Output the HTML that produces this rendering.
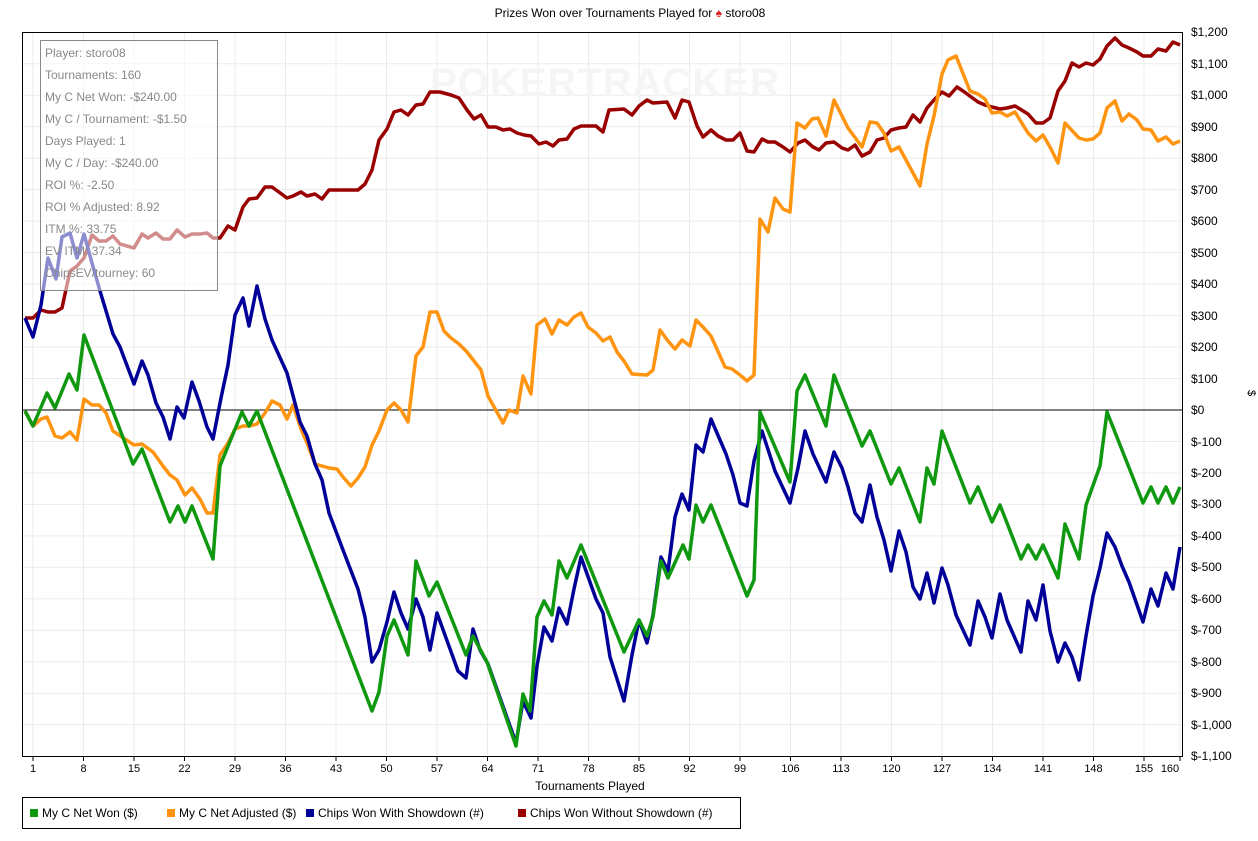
<!DOCTYPE html>
<html><head><meta charset="utf-8"><style>
body{margin:0;background:#fff;}
svg{display:block;font-family:"Liberation Sans",sans-serif;}
</style></head><body>
<svg width="1258" height="841" viewBox="0 0 1258 841" xmlns="http://www.w3.org/2000/svg">
<rect width="1258" height="841" fill="#fff"/>
<text x="630" y="17" font-size="12" text-anchor="middle" fill="#000">Prizes Won over Tournaments Played for <tspan fill="#d22">♠</tspan> storo08</text>
<g stroke="#ebebeb" stroke-width="1">
<line x1="23" x2="1183" y1="63.7" y2="63.7"/><line x1="23" x2="1183" y1="95.2" y2="95.2"/><line x1="23" x2="1183" y1="126.7" y2="126.7"/><line x1="23" x2="1183" y1="158.2" y2="158.2"/><line x1="23" x2="1183" y1="189.6" y2="189.6"/><line x1="23" x2="1183" y1="221.1" y2="221.1"/><line x1="23" x2="1183" y1="252.6" y2="252.6"/><line x1="23" x2="1183" y1="284.1" y2="284.1"/><line x1="23" x2="1183" y1="315.6" y2="315.6"/><line x1="23" x2="1183" y1="347" y2="347"/><line x1="23" x2="1183" y1="378.5" y2="378.5"/><line x1="23" x2="1183" y1="441.5" y2="441.5"/><line x1="23" x2="1183" y1="473" y2="473"/><line x1="23" x2="1183" y1="504.4" y2="504.4"/><line x1="23" x2="1183" y1="535.9" y2="535.9"/><line x1="23" x2="1183" y1="567.4" y2="567.4"/><line x1="23" x2="1183" y1="598.9" y2="598.9"/><line x1="23" x2="1183" y1="630.4" y2="630.4"/><line x1="23" x2="1183" y1="661.8" y2="661.8"/><line x1="23" x2="1183" y1="693.3" y2="693.3"/><line x1="23" x2="1183" y1="724.8" y2="724.8"/>
<line y1="32" y2="756" x1="33" x2="33"/><line y1="32" y2="756" x1="83.5" x2="83.5"/><line y1="32" y2="756" x1="134" x2="134"/><line y1="32" y2="756" x1="184.5" x2="184.5"/><line y1="32" y2="756" x1="235" x2="235"/><line y1="32" y2="756" x1="285.5" x2="285.5"/><line y1="32" y2="756" x1="336" x2="336"/><line y1="32" y2="756" x1="386.5" x2="386.5"/><line y1="32" y2="756" x1="437" x2="437"/><line y1="32" y2="756" x1="487.5" x2="487.5"/><line y1="32" y2="756" x1="538" x2="538"/><line y1="32" y2="756" x1="588.5" x2="588.5"/><line y1="32" y2="756" x1="639" x2="639"/><line y1="32" y2="756" x1="689.5" x2="689.5"/><line y1="32" y2="756" x1="740" x2="740"/><line y1="32" y2="756" x1="790.5" x2="790.5"/><line y1="32" y2="756" x1="841" x2="841"/><line y1="32" y2="756" x1="891.5" x2="891.5"/><line y1="32" y2="756" x1="942" x2="942"/><line y1="32" y2="756" x1="992.5" x2="992.5"/><line y1="32" y2="756" x1="1043" x2="1043"/><line y1="32" y2="756" x1="1093.5" x2="1093.5"/><line y1="32" y2="756" x1="1144" x2="1144"/><line y1="32" y2="756" x1="1180" x2="1180"/>
</g>
<text x="605" y="96" font-size="40" font-weight="bold" text-anchor="middle" fill="#f5f5f5" letter-spacing="1">POKERTRACKER</text>
<line x1="23" x2="1183" y1="410" y2="410" stroke="#000" stroke-width="1"/>
<g fill="none" stroke-width="3.5" stroke-linejoin="round">
<polyline stroke="#990000" points="25,318 33,318 41,310 48,312 55,312 62,308 70,271 77,266 84,258 92,235 99,241 106,241 113,236 120,244 134,248 142,234 148,238 156,233 163,239 170,239 177,230 185,237 192,234 200,234 207,233 213,238 220,238 228,226 235,230 243,207 249,199 257,198 265,187 272,187 287,198 293,196 301,192 307,196 315,194 322,199 329,190 358,190 365,184 372,170 379,140 387,129 394,112 401,110 408,115 416,105 423,104 430,92 440,92 451,95 459,98 467,110 474,119 481,115 488,127 496,127 503,130 510,129 517,133 524,135 531,136 539,144 546,142 553,146 559,140 567,139 574,129 581,126 596,126 603,132 609,110 624,109 632,115 639,106 647,100 653,103 667,102 675,118 682,100 689,102 697,126 703,137 711,130 718,136 726,140 733,140 740,133 747,151 754,152 762,139 768,142 775,142 783,147 790,152 798,143 805,140 813,147 819,150 826,143 834,142 842,148 848,150 855,145 862,156 870,152 877,140 884,138 891,130 899,128 906,127 913,115 920,122 927,108 934,100 942,92 949,96 957,87 963,91 978,102 985,105 992,107 1000,109 1007,108 1015,106 1028,114 1036,123 1043,123 1050,118 1058,91 1065,81 1072,63 1079,67 1086,63 1093,65 1100,59 1107,46 1115,38 1122,45 1129,48 1137,52 1143,56 1151,56 1158,49 1166,51 1173,42 1180,45"/>
<polyline stroke="#ff9411" points="25,411 33,426 41,419 47,417 55,436 62,438 70,432 77,440 84,399 92,405 99,405 106,413 113,431 134,445 142,444 153,452 163,466 170,475 177,480 185,495 192,488 200,499 207,513 213,513 220,455 228,443 235,429 243,426 249,426 257,424 265,413 272,401 280,405 287,419 293,405 301,429 307,443 315,464 322,466 329,468 337,469 343,477 351,486 358,478 365,467 372,445 379,431 387,410 394,403 401,410 408,422 416,356 423,347 430,312 437,312 444,331 451,338 459,344 467,352 481,370 488,396 503,423 509,410 517,413 523,376 531,394 537,325 545,319 552,334 559,320 567,325 574,317 581,313 588,327 596,333 603,341 610,337 617,352 624,361 632,374 647,375 653,370 660,330 668,341 675,349 682,340 690,346 696,320 703,327 711,336 725,367 732,369 740,375 747,381 754,375 760,219 768,232 775,198 783,209 790,212 797,123 805,128 812,119 818,118 826,136 834,100 848,128 862,147 870,122 877,123 884,133 891,151 899,147 920,186 927,144 934,116 942,74 948,60 956,56 970,91 978,94 985,99 992,113 1000,112 1007,116 1015,112 1028,133 1036,141 1043,135 1050,147 1058,163 1065,123 1079,138 1086,140 1093,139 1100,133 1107,108 1115,101 1122,121 1129,114 1137,120 1143,129 1151,130 1158,141 1166,137 1173,144 1180,141"/>
<polyline stroke="#000099" points="25,318 33,337 41,305 48,258 56,279 62,237 70,233 77,258 84,234 92,263 100,291 113,334 120,347 134,384 142,361 148,375 156,403 163,417 170,439 177,407 184,418 192,382 199,401 207,427 213,439 221,398 228,365 235,315 243,298 249,326 257,286 265,319 272,340 287,373 300,422 307,436 315,464 322,480 329,513 343,550 358,589 365,617 372,662 379,650 387,622 394,592 401,613 408,629 416,599 423,617 430,650 437,613 458,671 466,678 473,629 480,650 488,664 516,743 523,701 531,718 537,666 544,627 552,641 559,608 567,624 574,589 581,557 596,599 603,613 610,657 624,701 632,655 639,620 647,643 653,615 661,557 668,571 675,517 682,494 689,510 696,445 703,452 711,419 726,454 733,475 740,503 747,506 754,461 762,431 775,471 790,503 798,468 805,431 813,454 826,482 834,452 842,468 848,487 855,513 862,522 870,485 877,517 884,540 891,571 899,531 906,552 913,587 920,599 927,573 934,603 942,568 948,585 956,615 970,645 978,601 985,617 992,638 1000,594 1007,620 1021,652 1028,601 1036,620 1043,585 1050,631 1058,662 1065,643 1072,657 1079,680 1086,636 1093,596 1100,568 1107,533 1115,547 1122,566 1129,582 1143,622 1151,589 1158,606 1166,573 1173,589 1180,547"/>
<polyline stroke="#109910" points="25,411 33,426 47,393 55,408 69,374 77,390 84,335 133,464 142,449 170,522 178,506 185,522 192,506 213,559 220,466 242,412 249,426 257,411 372,711 379,692 387,636 394,620 408,655 416,561 429,596 437,582 466,655 473,636 487,662 516,746 523,694 530,711 537,617 544,601 552,615 559,561 567,578 581,545 624,652 639,620 647,636 653,617 661,561 668,578 683,545 689,559 696,505 703,522 711,505 747,596 754,580 760,412 790,482 797,391 805,375 826,426 834,375 862,446 870,431 891,484 899,468 920,522 927,468 934,484 942,431 970,503 978,487 992,522 1000,505 1021,559 1028,545 1036,559 1043,545 1058,578 1065,524 1079,559 1086,505 1100,466 1107,412 1143,503 1151,487 1158,503 1166,487 1173,503 1180,487"/>
</g>
<rect x="40.5" y="40.5" width="177" height="250" fill="#fff" fill-opacity="0.55" stroke="#888" stroke-width="1"/>
<g font-size="12" fill="#888">
<text x="45" y="57">Player: storo08</text>
<text x="45" y="79">Tournaments: 160</text>
<text x="45" y="101">My C Net Won: -$240.00</text>
<text x="45" y="123">My C / Tournament: -$1.50</text>
<text x="45" y="145">Days Played: 1</text>
<text x="45" y="167">My C / Day: -$240.00</text>
<text x="45" y="189">ROI %: -2.50</text>
<text x="45" y="211">ROI % Adjusted: 8.92</text>
<text x="45" y="233">ITM %: 33.75</text>
<text x="45" y="255">EV ITM: 37.34</text>
<text x="45" y="277">ChipsEV/tourney: 60</text>
</g>
<rect x="22.5" y="32.5" width="1160" height="724" fill="none" stroke="#000" stroke-width="1"/>
<g stroke="#000" stroke-width="1">
<line x1="33" x2="33" y1="757" y2="761"/><line x1="83.5" x2="83.5" y1="757" y2="761"/><line x1="134" x2="134" y1="757" y2="761"/><line x1="184.5" x2="184.5" y1="757" y2="761"/><line x1="235" x2="235" y1="757" y2="761"/><line x1="285.5" x2="285.5" y1="757" y2="761"/><line x1="336" x2="336" y1="757" y2="761"/><line x1="386.5" x2="386.5" y1="757" y2="761"/><line x1="437" x2="437" y1="757" y2="761"/><line x1="487.5" x2="487.5" y1="757" y2="761"/><line x1="538" x2="538" y1="757" y2="761"/><line x1="588.5" x2="588.5" y1="757" y2="761"/><line x1="639" x2="639" y1="757" y2="761"/><line x1="689.5" x2="689.5" y1="757" y2="761"/><line x1="740" x2="740" y1="757" y2="761"/><line x1="790.5" x2="790.5" y1="757" y2="761"/><line x1="841" x2="841" y1="757" y2="761"/><line x1="891.5" x2="891.5" y1="757" y2="761"/><line x1="942" x2="942" y1="757" y2="761"/><line x1="992.5" x2="992.5" y1="757" y2="761"/><line x1="1043" x2="1043" y1="757" y2="761"/><line x1="1093.5" x2="1093.5" y1="757" y2="761"/><line x1="1144" x2="1144" y1="757" y2="761"/><line x1="1180" x2="1180" y1="757" y2="761"/>
</g>
<g font-size="11" fill="#000" text-anchor="middle">
<text x="33" y="772">1</text><text x="83.5" y="772">8</text><text x="134" y="772">15</text><text x="184.5" y="772">22</text><text x="235" y="772">29</text><text x="285.5" y="772">36</text><text x="336" y="772">43</text><text x="386.5" y="772">50</text><text x="437" y="772">57</text><text x="487.5" y="772">64</text><text x="538" y="772">71</text><text x="588.5" y="772">78</text><text x="639" y="772">85</text><text x="689.5" y="772">92</text><text x="740" y="772">99</text><text x="790.5" y="772">106</text><text x="841" y="772">113</text><text x="891.5" y="772">120</text><text x="942" y="772">127</text><text x="992.5" y="772">134</text><text x="1043" y="772">141</text><text x="1093.5" y="772">148</text><text x="1144" y="772">155</text><text x="1170" y="772">160</text>
</g>
<text x="590" y="790" font-size="12" text-anchor="middle">Tournaments Played</text>
<g font-size="12" fill="#000">
<text x="1191" y="36">$1,200</text><text x="1191" y="68">$1,100</text><text x="1191" y="99">$1,000</text><text x="1191" y="131">$900</text><text x="1191" y="162">$800</text><text x="1191" y="194">$700</text><text x="1191" y="225">$600</text><text x="1191" y="257">$500</text><text x="1191" y="288">$400</text><text x="1191" y="320">$300</text><text x="1191" y="351">$200</text><text x="1191" y="383">$100</text><text x="1191" y="414">$0</text><text x="1191" y="446">$-100</text><text x="1191" y="477">$-200</text><text x="1191" y="508">$-300</text><text x="1191" y="540">$-400</text><text x="1191" y="571">$-500</text><text x="1191" y="603">$-600</text><text x="1191" y="634">$-700</text><text x="1191" y="666">$-800</text><text x="1191" y="697">$-900</text><text x="1191" y="729">$-1,000</text><text x="1191" y="760">$-1,100</text>
</g>
<text x="1248" y="393" font-size="11" transform="rotate(90 1248 393)" text-anchor="middle">$</text>
<rect x="22.5" y="797.5" width="718" height="31" fill="#fff" stroke="#000" stroke-width="1"/>
<g font-size="12" fill="#000">
<rect x="30" y="809" width="8" height="8" fill="#109910"/><text x="42" y="817">My C Net Won ($)</text>
<rect x="167" y="809" width="8" height="8" fill="#ff9411"/><text x="179" y="817">My C Net Adjusted ($)</text>
<rect x="306" y="809" width="8" height="8" fill="#000099"/><text x="318" y="817">Chips Won With Showdown (#)</text>
<rect x="518" y="809" width="8" height="8" fill="#990000"/><text x="530" y="817">Chips Won Without Showdown (#)</text>
</g>
</svg>
</body></html>
